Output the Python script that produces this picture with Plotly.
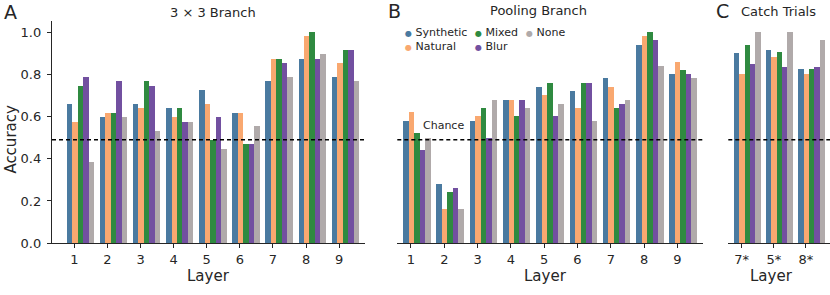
import plotly.graph_objects as go

# ---------------- data ----------------
SERIES = ["Synthetic", "Natural", "Mixed", "Blur", "None"]
COLORS = ["#4a7aa0", "#f9a870", "#2f8a40", "#7250a0", "#b0aaaa"]

layers = [1, 2, 3, 4, 5, 6, 7, 8, 9]
layer_labels = ["1", "2", "3", "4", "5", "6", "7", "8", "9"]

branch3x3 = {
    "Synthetic": [0.660, 0.596, 0.660, 0.638, 0.723, 0.617, 0.766, 0.872, 0.787],
    "Natural":   [0.574, 0.617, 0.638, 0.596, 0.660, 0.617, 0.872, 0.979, 0.851],
    "Mixed":     [0.745, 0.617, 0.766, 0.638, 0.489, 0.468, 0.872, 1.000, 0.915],
    "Blur":      [0.787, 0.766, 0.745, 0.574, 0.596, 0.468, 0.851, 0.872, 0.915],
    "None":      [0.383, 0.596, 0.532, 0.574, 0.447, 0.553, 0.787, 0.894, 0.766],
}

pooling = {
    "Synthetic": [0.58, 0.28, 0.58, 0.68, 0.74, 0.72, 0.78, 0.94, 0.80],
    "Natural":   [0.62, 0.16, 0.60, 0.68, 0.70, 0.64, 0.74, 0.98, 0.86],
    "Mixed":     [0.52, 0.24, 0.64, 0.60, 0.76, 0.76, 0.64, 1.00, 0.82],
    "Blur":      [0.44, 0.26, 0.50, 0.68, 0.60, 0.76, 0.66, 0.96, 0.80],
    "None":      [0.50, 0.16, 0.68, 0.64, 0.66, 0.58, 0.68, 0.84, 0.78],
}

catch_pos = [1, 2, 3]
catch_labels = ["7*", "5*", "8*"]
catch = {
    "Synthetic": [0.900, 0.915, 0.823],
    "Natural":   [0.800, 0.880, 0.800],
    "Mixed":     [0.940, 0.906, 0.823],
    "Blur":      [0.848, 0.833, 0.833],
    "None":      [1.000, 1.000, 0.960],
}

CHANCE = 0.49
y_ticks = [0.0, 0.2, 0.4, 0.6, 0.8, 1.0]

# ---------------- figure ----------------
W, H = 830, 295
FONT = "DejaVu Sans"
TXT = "#262626"
BAR_W = 0.165
FIRST_OFF = -0.2275


def px(x):
    return x / W


def py(y):
    return 1 - y / H


fig = go.Figure()

panels = [
    (branch3x3, layers, "x", "y"),
    (pooling, layers, "x2", "y2"),
    (catch, catch_pos, "x3", "y3"),
]
for data, xs, xa, ya in panels:
    for i, s in enumerate(SERIES):
        fig.add_trace(go.Bar(
            x=xs, y=data[s], name=s, xaxis=xa, yaxis=ya,
            width=BAR_W, offset=FIRST_OFF + i * BAR_W,
            marker=dict(color=COLORS[i], line=dict(width=0)),
            showlegend=False,
        ))

yb, yt = py(250), py(21.7)
common_x = dict(showline=True, linecolor=TXT, linewidth=1.25, ticks="outside",
                ticklen=4, tickwidth=1.1, tickcolor=TXT, showgrid=False,
                zeroline=False, tickfont=dict(family=FONT, size=13, color=TXT))
common_y = dict(range=[0, 1.052], showgrid=False, zeroline=False)

fig.update_layout(
    width=W, height=H, autosize=False,
    margin=dict(l=0, r=0, t=0, b=0),
    paper_bgcolor="white", plot_bgcolor="white",
    barmode="overlay",
    bargap=0,
    font=dict(family=FONT, color=TXT),
    xaxis=dict(domain=[px(52), px(365)], range=[0.326, 9.78], anchor="y",
               tickvals=layers, ticktext=layer_labels, **common_x),
    xaxis2=dict(domain=[px(397.3), px(703)], range=[0.589, 9.77], anchor="y2",
                tickvals=layers, ticktext=layer_labels, **common_x),
    xaxis3=dict(domain=[px(728.3), 1.0], range=[0.584, 3.75], anchor="y3",
                tickvals=catch_pos, ticktext=catch_labels, **common_x),
    yaxis=dict(domain=[yb, yt], anchor="x", showline=True, linecolor=TXT,
               linewidth=1.25, ticks="outside", ticklen=4, tickwidth=1.1,
               tickcolor=TXT, tickvals=y_ticks,
               ticktext=[f"{v:.1f}" for v in y_ticks], ticklabelstandoff=3,
               tickfont=dict(family=FONT, size=13, color=TXT), **common_y),
    yaxis2=dict(domain=[yb, yt], anchor="x2", showline=False,
                showticklabels=False, ticks="", **common_y),
    yaxis3=dict(domain=[yb, yt], anchor="x3", showline=False,
                showticklabels=False, ticks="", **common_y),
)

# chance lines
for xr, yr in [("x domain", "y"), ("x2 domain", "y2"), ("x3 domain", "y3")]:
    fig.add_shape(type="line", xref=xr, yref=yr, x0=0, x1=1, y0=CHANCE, y1=CHANCE,
                  line=dict(color="black", width=1.3, dash="4px,3px"))

ann = []


def text(x, y, t, size, xanchor="center", yanchor="middle", angle=0):
    ann.append(dict(x=px(x), y=py(y), xref="paper", yref="paper", text=t,
                    showarrow=False, xanchor=xanchor, yanchor=yanchor,
                    textangle=angle,
                    font=dict(family=FONT, size=size, color=TXT)))


# panel letters
text(2, 12, "A", 19, xanchor="left")
text(385.5, 11, "B", 19, xanchor="left")
text(713.5, 11, "C", 19, xanchor="left")
# titles
text(213, 13, "3 × 3 Branch", 13)
text(538.5, 10.5, "Pooling Branch", 13)
text(778, 12, "Catch Trials", 13)
# axis titles
text(208, 283.5, "Layer", 15)
text(545, 283.5, "Layer", 15)
text(771.7, 283.5, "Layer", 15)
text(11.5, 143, "Accuracy", 15, angle=-90)
# chance label
text(443, 128.5, "Chance", 11)

# legend (column-major, 3 columns)
leg = [("Synthetic", 0, 405.7, 33.3), ("Natural", 1, 405.7, 47.7),
       ("Mixed", 2, 475.7, 33.3), ("Blur", 3, 475.7, 47.7),
       ("None", 4, 526.7, 33.3)]
for name, ci, cx, cy in leg:
    t = (f'<span style="font-size:8px;color:{COLORS[ci]}">●</span>'
         f'<span style="font-size:11px"> {name}</span>')
    text(cx - 2.5, cy, t, 11, xanchor="left")

fig.update_layout(annotations=ann)

fig.write_html(
    "out.html",
    config={"displayModeBar": False, "responsive": False},
    post_script="document.body.style.margin='0';document.body.style.overflow='hidden';",
)
